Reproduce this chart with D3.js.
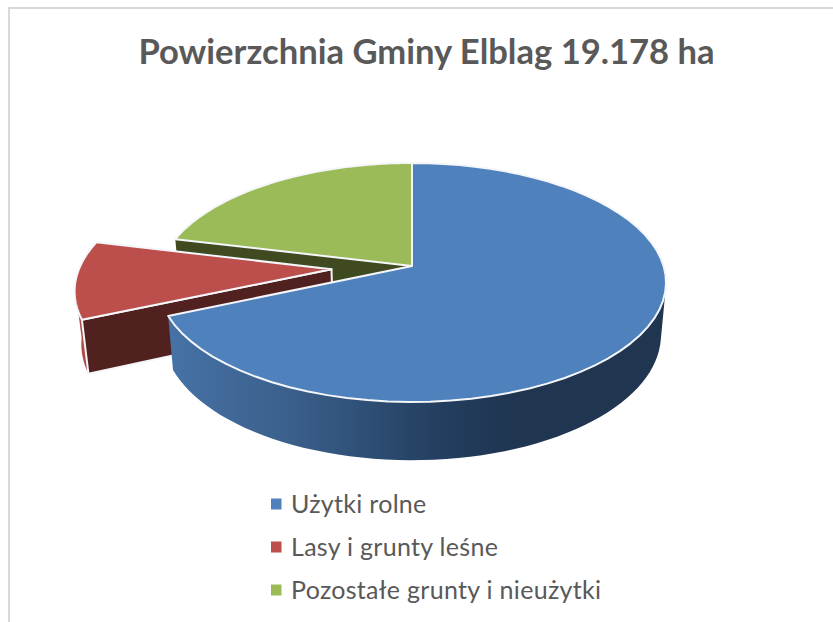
<!DOCTYPE html>
<html>
<head>
<meta charset="utf-8">
<script src="https://d3js.org/d3.v7.min.js"></script>
<style>
  html, body { margin: 0; padding: 0; background: #fff; }
  svg { display: block; }
  text { font-family: Lato, "Open Sans", sans-serif; fill: #595959; }
</style>
</head>
<body>
<div id="chart"></div>
<script>
const chartTitle = "Powierzchnia Gminy Elblag 19.178 ha";
const categories = ["Użytki rolne", "Lasy i grunty leśne", "Pozostałe grunty i nieużytki"];
const areas = [13118, 1995, 4065];
const topColors = ["#4f81bd", "#bc4f4c", "#9bbb59"];
const explode = [0, 0.32, 0];

const width = 833;
const height = 622;

const svg = d3.select("#chart").append("svg")
  .attr("width", width)
  .attr("height", height);

// frame, only top and left show in the picture
svg.append("path")
  .attr("d", `M9,${height}V8H${width}`)
  .attr("fill", "none")
  .attr("stroke", "#d9d9d9")
  .attr("stroke-width", 2);

svg.append("text")
  .attr("x", 426.5)
  .attr("y", 64)
  .attr("text-anchor", "middle")
  .attr("font-size", 34.6)
  .attr("font-weight", 700)
  .text(chartTitle);

// wall gradient runs left to right across the pie
const defs = svg.append("defs");
const wallGradient = defs.append("linearGradient")
  .attr("id", "blueWall")
  .attr("gradientUnits", "userSpaceOnUse")
  .attr("x1", 168).attr("x2", 665).attr("y1", 0).attr("y2", 0);
[[0, "#4672a6"], [0.25, "#3a5f8b"], [0.55, "#233e5f"], [0.7, "#1f3550"], [1, "#1f3550"]].forEach(s => {
  wallGradient.append("stop").attr("offset", s[0]).attr("stop-color", s[1]);
});

// perspective of the disc: near side is bigger than the far side
const tilt = 0.138;
const scaleX = d3.scaleLinear().domain([-1, 1]).range([412 - 251.6, 412 + 251.6]);
const scaleY = d3.scaleLinear().domain([-1, 1]).range([266 - 117.2, 266 + 117.2]);
const lowerX = d3.scaleLinear().domain([-1, 1]).range([412 - 246.6, 412 + 246.6]);
const lowerY = d3.scaleLinear().domain([-1, 1]).range([317.5 - 123, 317.5 + 123]);

const pie = d3.pie().sort(null).value(d => d);
const arcs = pie(areas);

// disc point for angle a (clockwise from the top), r 0 = slice apex
function point(a, r, i, lower) {
  const mid = (arcs[i].startAngle + arcs[i].endAngle) / 2;
  const u = r * Math.sin(a) + explode[i] * Math.sin(mid);
  const v = -r * Math.cos(a) - explode[i] * Math.cos(mid);
  const w = 1 - tilt * v;
  return lower
    ? [lowerX(u / w), lowerY(v / w)]
    : [scaleX(u / w), scaleY(v / w)];
}

function rim(a0, a1, i, lower) {
  return d3.range(0, 61).map(k => point(a0 + (a1 - a0) * k / 60, 1, i, lower));
}

const line = d3.line();
const closed = pts => line(pts) + "Z";

function drawFace(pts, fill, stroke) {
  svg.append("path")
    .attr("d", closed(pts))
    .attr("fill", fill)
    .attr("stroke", stroke || "none")
    .attr("stroke-width", stroke ? 2 : 0)
    .attr("stroke-linejoin", "round");
}

function topFace(i) {
  const d = arcs[i];
  drawFace([point(0, 0, i, false)].concat(rim(d.startAngle, d.endAngle, i, false)), topColors[i], "#f4f6fa");
}

function cutFace(a, i, fill, stroke) {
  drawFace([point(a, 0, i, false), point(a, 1, i, false), point(a, 1, i, true), point(a, 0, i, true)], fill, stroke);
}

const [blue, red, green] = arcs;

// back to front: green first, red next, blue on top of both
cutFace(green.startAngle, 2, "#3f4a20");
topFace(2);

const redSide = red.startAngle + 0.28;
drawFace(rim(red.startAngle, redSide, 1, false).concat(rim(red.startAngle, redSide, 1, true).reverse()), "#b04b48");
cutFace(red.startAngle, 1, "#51211f", "#f4f6fa");
topFace(1);

const wallStart = 100 * Math.PI / 180;
drawFace(rim(wallStart, blue.endAngle, 0, false).concat(rim(wallStart, blue.endAngle, 0, true).reverse()), "url(#blueWall)");
topFace(0);

// legend
const legendY = d3.scalePoint().domain(categories).range([504, 590]);
const legend = svg.selectAll(".legend")
  .data(categories)
  .enter()
  .append("g")
  .attr("class", "legend")
  .attr("transform", d => `translate(271, ${legendY(d)})`);

legend.append("rect")
  .attr("y", -5.5)
  .attr("width", 10.5)
  .attr("height", 11)
  .attr("fill", (d, i) => topColors[i]);

legend.append("text")
  .attr("x", 20)
  .attr("y", 9)
  .attr("font-size", 25)
  .attr("letter-spacing", 0.3)
  .text(d => d);
</script>
</body>
</html>
